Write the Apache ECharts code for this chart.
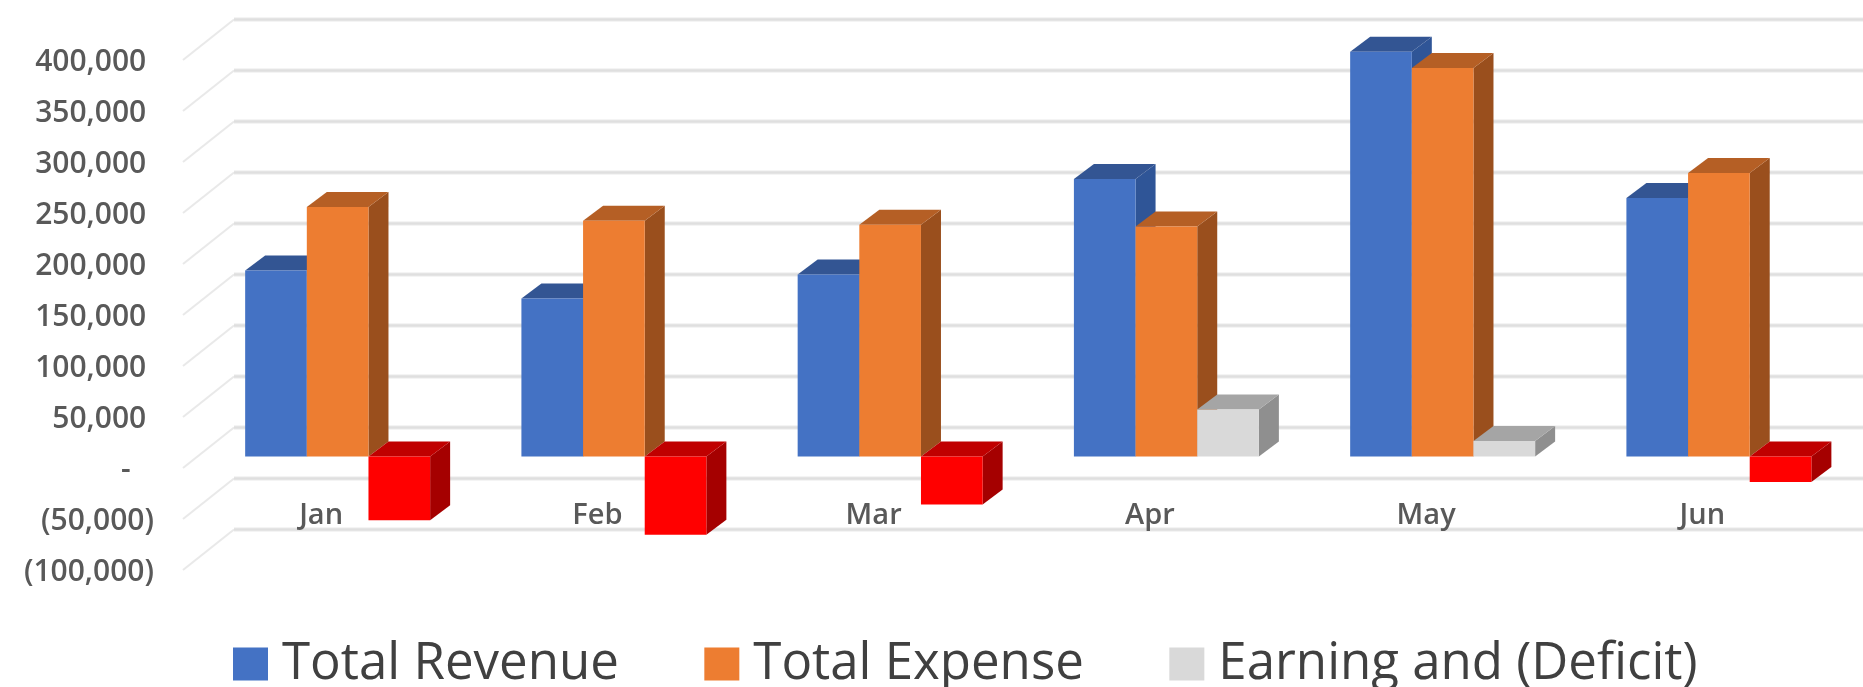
<!DOCTYPE html>
<html><head><meta charset="utf-8">
<style>html,body{margin:0;padding:0;background:#fff;overflow:hidden}#c{width:1863px;height:687px;filter:blur(0.6px)}</style>
<script src="https://cdn.jsdelivr.net/npm/echarts@6/dist/echarts.min.js"></script>
</head><body><div id="c"></div>
<script>
const categories = ['Jan','Feb','Mar','Apr','May','Jun'];
const totalRevenue = [182400,155000,178500,272100,397000,253600];
const totalExpense = [244700,231200,227400,225500,380900,278000];
const earningDeficit = [-62500,-76500,-47000,46200,15400,-25000];
const yTicks = [-100000,-50000,0,50000,100000,150000,200000,250000,300000,350000,400000];

const FONT = '"Open Sans"';
const faces = [
  {front:'#4472c4',top:'#335593',side:'#2f5597'},
  {front:'#ed7d31',top:'#b55f25',side:'#9a4f1d'},
  {front:'#d9d9d9',top:'#a5a5a5',side:'#8f8f8f'}
];
const negFace = {front:'#ff0000',top:'#c00000',side:'#a50000'};

function fmt(v){
  if(v===0) return '-   ';
  const s=Math.abs(v).toLocaleString('en-US');
  return v<0?'('+s+')':s+' ';
}
function wallItem(params,api){
  const p=api.coord([0,api.value(1)]);
  const cs=params.coordSys, x0=cs.x, y=p[1]-2.5;
  const bx=x0+51, by=y-40.5;
  const line=(pts,w,c)=>({type:'polyline',shape:{points:pts},style:{fill:null,stroke:c,lineWidth:w}});
  return {type:'group',children:[
    line([[x0,y],[bx,by]],2,'#e9e9e9'),
    line([[bx,by],[cs.x+cs.width+60,by]],5,'#f4f4f4'),
    line([[bx,by],[cs.x+cs.width+60,by]],2.5,'#dfdfdf')
  ]};
}
function barRender(idx){
  return function(params,api){
    const cat=api.value(0), val=api.value(1);
    const top=api.coord([cat,val]), zero=api.coord([cat,0]);
    const band=api.size([1,0])[0];
    const w=band*0.2232, dx=20, dy=15;
    const xl=zero[0]+band*(-0.275)+idx*w;
    const planeY=-13.9;
    const y1=Math.min(top[1],zero[1])+planeY, y2=Math.max(top[1],zero[1])+planeY;
    const f=val<0?negFace:faces[idx];
    const poly=(pts,c)=>({type:'polygon',shape:{points:pts},style:{fill:c}});
    return {type:'group',children:[
      poly([[xl+w,y1],[xl+w+dx,y1-dy],[xl+w+dx,y2-dy],[xl+w,y2]],f.side),
      poly([[xl,y1],[xl+dx,y1-dy],[xl+w+dx,y1-dy],[xl+w,y1]],f.top),
      {type:'rect',shape:{x:xl,y:y1,width:w,height:y2-y1},style:{fill:f.front}}
    ]};
  };
}
const seriesDefs=[['Total Revenue',totalRevenue],['Total Expense',totalExpense],['Earning and (Deficit)',earningDeficit]];
const chart=echarts.init(document.getElementById('c'),null,{renderer:'canvas'});
chart.setOption({
  animation:false,
  backgroundColor:'#fff',
  grid:{left:183,top:62.5,width:1657.5,height:510},
  legend:{
    left:233,top:638,padding:0,itemWidth:35,itemHeight:33,itemGap:85.5,icon:'rect',
    data:seriesDefs.map(s=>s[0]),
    textStyle:{fontFamily:FONT,fontSize:51,color:'#404040',padding:[0,0,0,9],lineHeight:52}
  },
  xAxis:{type:'category',z:2,data:categories,axisLine:{show:false},axisTick:{show:false},
    axisLabel:{color:'#595959',fontFamily:FONT,fontSize:29,fontWeight:600,margin:-71.5}},
  yAxis:{type:'value',min:-100000,max:400000,interval:50000,splitLine:{show:false},axisLine:{show:false},axisTick:{show:false},
    axisLabel:{color:'#595959',fontFamily:FONT,fontSize:30,fontWeight:600,margin:29,formatter:fmt}},
  series:[
    {type:'custom',name:'walls',silent:true,z:1,renderItem:wallItem,encode:{x:0,y:1},data:yTicks.map(t=>[0,t])},
    ...seriesDefs.map((s,i)=>({
      type:'custom',name:s[0],z:3+i,renderItem:barRender(i),itemStyle:{color:faces[i].front},
      encode:{x:0,y:1},data:s[1].map((v,k)=>[k,v])
    }))
  ]
});
</script></body></html>
